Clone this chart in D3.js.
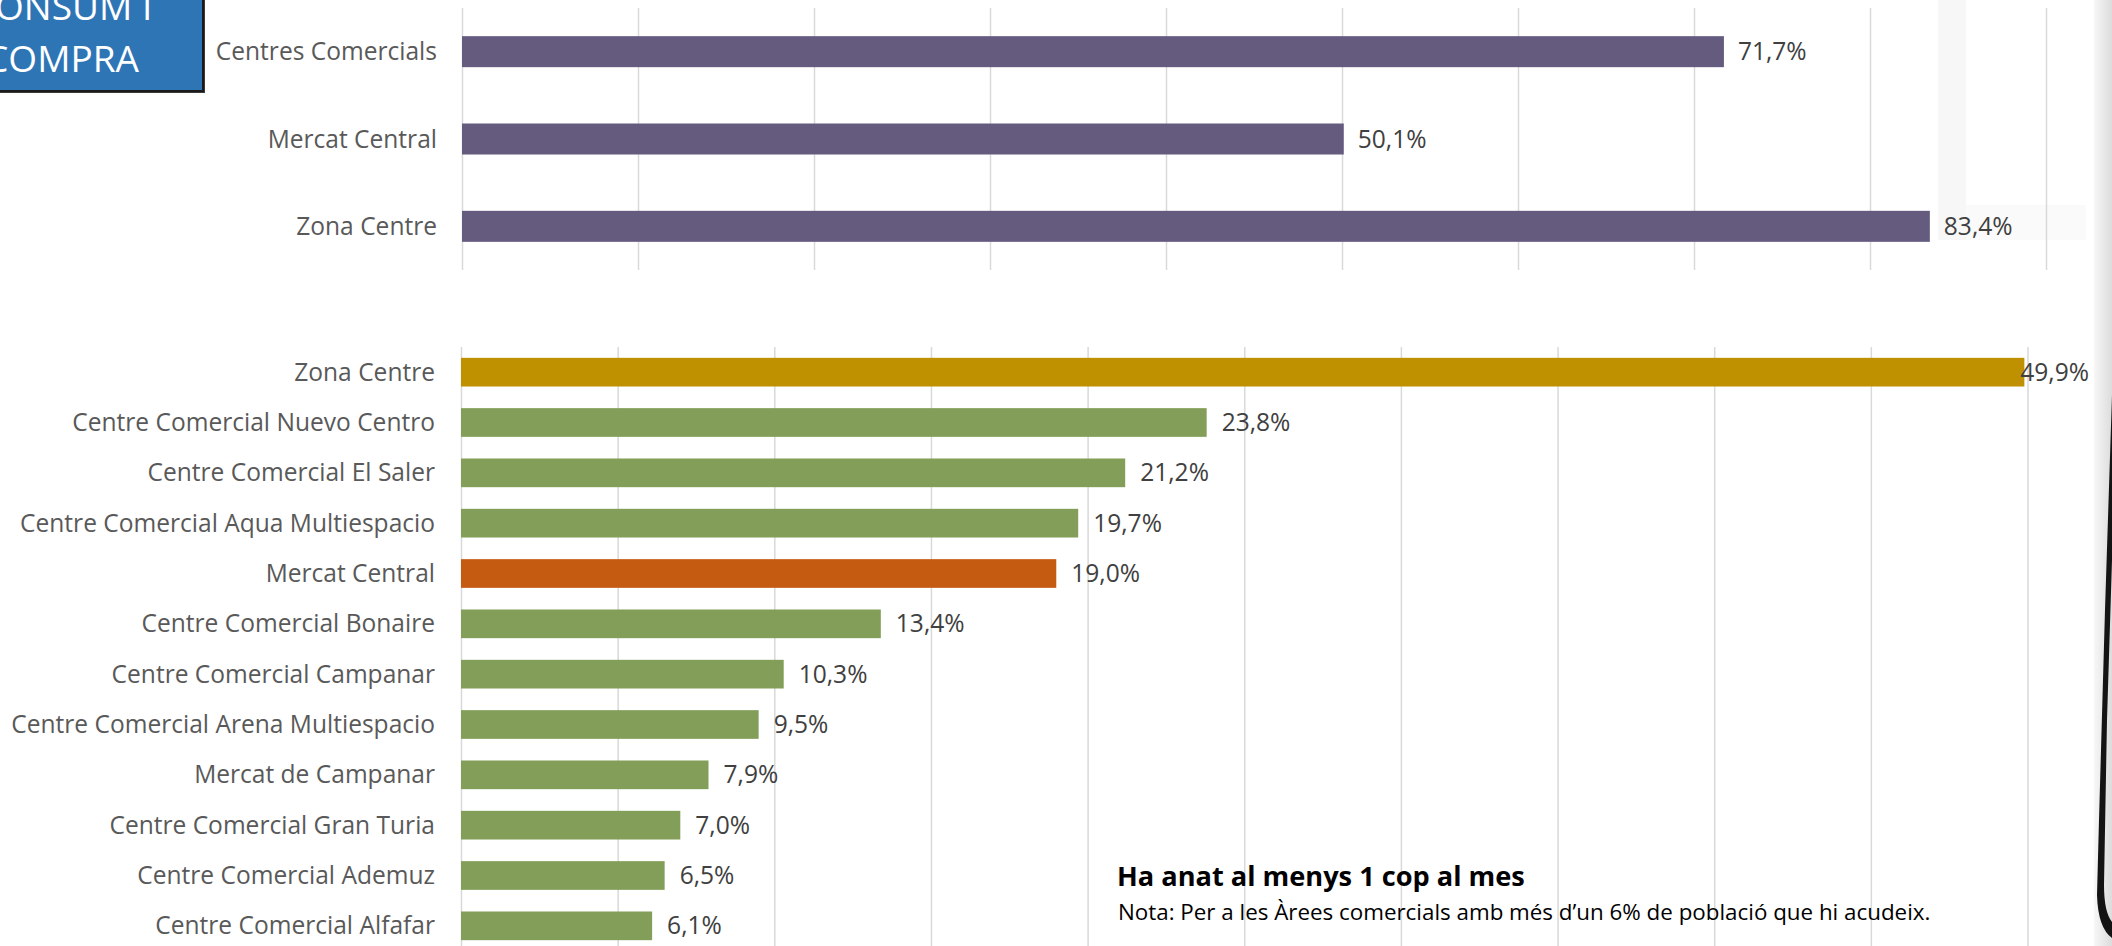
<!DOCTYPE html>
<html><head><meta charset="utf-8">
<script src="https://cdn.jsdelivr.net/npm/d3@7"></script>
<style>html,body{margin:0;padding:0;background:#fff;overflow:hidden}</style>
</head><body>
<svg id="c" width="2112" height="946"></svg>
<script>
// ---------- data ----------
const topCategories = ["Centres Comercials", "Mercat Central", "Zona Centre"];
const topValues = [71.7, 50.1, 83.4];
const topTicks = [0, 10, 20, 30, 40, 50, 60, 70, 80, 90];

const bottomCategories = [
  "Zona Centre",
  "Centre Comercial Nuevo Centro",
  "Centre Comercial El Saler",
  "Centre Comercial Aqua Multiespacio",
  "Mercat Central",
  "Centre Comercial Bonaire",
  "Centre Comercial Campanar",
  "Centre Comercial Arena Multiespacio",
  "Mercat de Campanar",
  "Centre Comercial Gran Turia",
  "Centre Comercial Ademuz",
  "Centre Comercial Alfafar"
];
const bottomValues = [49.9, 23.8, 21.2, 19.7, 19.0, 13.4, 10.3, 9.5, 7.9, 7.0, 6.5, 6.1];
const bottomKinds = ["zona", "area", "area", "area", "mercat", "area", "area", "area", "area", "area", "area", "area"];
const bottomTicks = [0, 5, 10, 15, 20, 25, 30, 35, 40, 45, 50];

const titleLines = ["CONSUM I", "COMPRA"];
const noteTitle = "Ha anat al menys 1 cop al mes";
const noteText = "Nota: Per a les Àrees comercials amb més d’un 6% de població que hi acudeix.";

// ---------- styles ----------
const FONT = "'Open Sans', 'Noto Sans', sans-serif";
const kindColor = { zona: "#BF9000", area: "#829E58", mercat: "#C55A11" };
const topColor = "#645B7F";
const gridColor = "#D9D9D9";

const locale = d3.formatLocale({ decimal: ",", thousands: ".", grouping: [3], currency: ["", "€"] });
const fmt = v => locale.format(".1f")(v) + "%";

function draw() {
  const svg = d3.select("#c");

  function fitSize(text, weight, target) {
    const t = svg.append("text").attr("font-family", FONT).attr("font-weight", weight)
      .attr("font-size", 100).text(text);
    const w = t.node().getComputedTextLength();
    t.remove();
    return 100 * target / w;
  }
  const labelSize = fitSize("Centre Comercial Arena Multiespacio", 400, 424);

  // faint photo texture near top-right
  svg.append("rect").attr("x", 1938).attr("y", 0).attr("width", 28).attr("height", 240).attr("fill", "#F7F7F7");
  svg.append("rect").attr("x", 1966).attr("y", 205).attr("width", 120).attr("height", 35).attr("fill", "#FAFAFA");

  // ---------- top chart ----------
  const xTop = d3.scaleLinear().domain([0, 90]).range([462, 2046]);
  const yTop = d3.scaleBand().domain(topCategories).range([8, 270]).paddingInner(0.645).paddingOuter(0.3225);

  svg.append("g").attr("transform", "translate(0,8)")
    .call(d3.axisBottom(xTop).tickValues(topTicks).tickSize(262).tickFormat(""))
    .call(g => g.select(".domain").remove())
    .call(g => g.selectAll("line").attr("stroke", gridColor).attr("stroke-width", 1.5));

  svg.append("g").selectAll("rect").data(topCategories).join("rect")
    .attr("x", xTop(0)).attr("y", d => yTop(d))
    .attr("width", (d, i) => xTop(topValues[i]) - xTop(0))
    .attr("height", yTop.bandwidth()).attr("fill", topColor);

  svg.append("g").selectAll("text").data(topCategories).join("text")
    .attr("x", xTop(0) - 25).attr("y", d => yTop(d) + yTop.bandwidth() / 2).attr("dy", "0.35em")
    .attr("text-anchor", "end").attr("font-family", FONT).attr("font-size", labelSize)
    .attr("fill", "#595959").text(d => d);

  svg.append("g").selectAll("text").data(topCategories).join("text")
    .attr("x", (d, i) => xTop(topValues[i]) + 14).attr("y", d => yTop(d) + yTop.bandwidth() / 2).attr("dy", "0.35em")
    .attr("font-family", FONT).attr("font-size", labelSize).attr("fill", "#404040")
    .text((d, i) => fmt(topValues[i]));

  // ---------- bottom chart ----------
  const xBot = d3.scaleLinear().domain([0, 50]).range([461, 2027.5]);
  const yBot = d3.scaleBand().domain(bottomCategories).range([347, 951]).paddingInner(0.43).paddingOuter(0.215);

  svg.append("g").attr("transform", "translate(0,347)")
    .call(d3.axisBottom(xBot).tickValues(bottomTicks).tickSize(604).tickFormat(""))
    .call(g => g.select(".domain").remove())
    .call(g => g.selectAll("line").attr("stroke", gridColor).attr("stroke-width", 1.5));

  svg.append("g").selectAll("rect").data(bottomCategories).join("rect")
    .attr("x", xBot(0)).attr("y", d => yBot(d))
    .attr("width", (d, i) => xBot(bottomValues[i]) - xBot(0))
    .attr("height", yBot.bandwidth()).attr("fill", (d, i) => kindColor[bottomKinds[i]]);

  svg.append("g").selectAll("text").data(bottomCategories).join("text")
    .attr("x", xBot(0) - 26).attr("y", d => yBot(d) + yBot.bandwidth() / 2).attr("dy", "0.35em")
    .attr("text-anchor", "end").attr("font-family", FONT).attr("font-size", labelSize)
    .attr("fill", "#595959").text(d => d);

  const plotRight = 2089;
  svg.append("g").selectAll("text").data(bottomCategories).join("text")
    .attr("y", d => yBot(d) + yBot.bandwidth() / 2).attr("dy", "0.35em")
    .attr("font-family", FONT).attr("font-size", labelSize).attr("fill", "#404040")
    .text((d, i) => fmt(bottomValues[i]))
    .attr("x", function (d, i) {
      const w = this.getComputedTextLength();
      return Math.min(xBot(bottomValues[i]) + 15, plotRight - w);
    });

  // ---------- notes ----------
  const noteTitleSize = fitSize(noteTitle, 700, 408);
  svg.append("text").attr("x", 1117).attr("y", 886).attr("font-family", FONT).attr("font-weight", 700)
    .attr("font-size", noteTitleSize).attr("fill", "#000").text(noteTitle);
  const noteSize = fitSize(noteText, 400, 813);
  svg.append("text").attr("x", 1118).attr("y", 920).attr("font-family", FONT)
    .attr("font-size", noteSize).attr("fill", "#000").text(noteText);

  // ---------- title box ----------
  const box = svg.append("g");
  box.append("rect").attr("x", -78).attr("y", -60).attr("width", 283).attr("height", 153).attr("fill", "#3a3a3a");
  box.append("rect").attr("x", -80).attr("y", -60).attr("width", 283).attr("height", 151)
    .attr("fill", "#2E75B6").attr("stroke", "#1A1A1A").attr("stroke-width", 2);
  const titleSize = fitSize(titleLines[1], 400, 154);
  box.selectAll("text.t").data(titleLines).join("text").attr("class", "t")
    .attr("x", 62).attr("y", (d, i) => 20 + i * 52).attr("text-anchor", "middle")
    .attr("font-family", FONT).attr("font-size", titleSize).attr("fill", "#fff").text(d => d);

  // ---------- right edge photo artefact ----------
  const defs = svg.append("defs");
  const lg = defs.append("linearGradient").attr("id", "edge").attr("x1", 0).attr("x2", 1).attr("y1", 0).attr("y2", 0);
  lg.append("stop").attr("offset", 0).attr("stop-color", "#F7F7F7");
  lg.append("stop").attr("offset", 1).attr("stop-color", "#DCDCDC");
  svg.append("rect").attr("x", 2094).attr("y", 0).attr("width", 18).attr("height", 946).attr("fill", "url(#edge)");
  svg.append("path")
    .attr("d", "M2112,395 L2105,610 L2099,820 L2097,895 Q2098,928 2112,938 L2112,922 Q2104,912 2104,885 L2107,720 L2112,560 Z")
    .attr("fill", "#141414");
}

if (document.fonts && document.fonts.ready) document.fonts.ready.then(draw); else draw();
</script>
</body></html>
